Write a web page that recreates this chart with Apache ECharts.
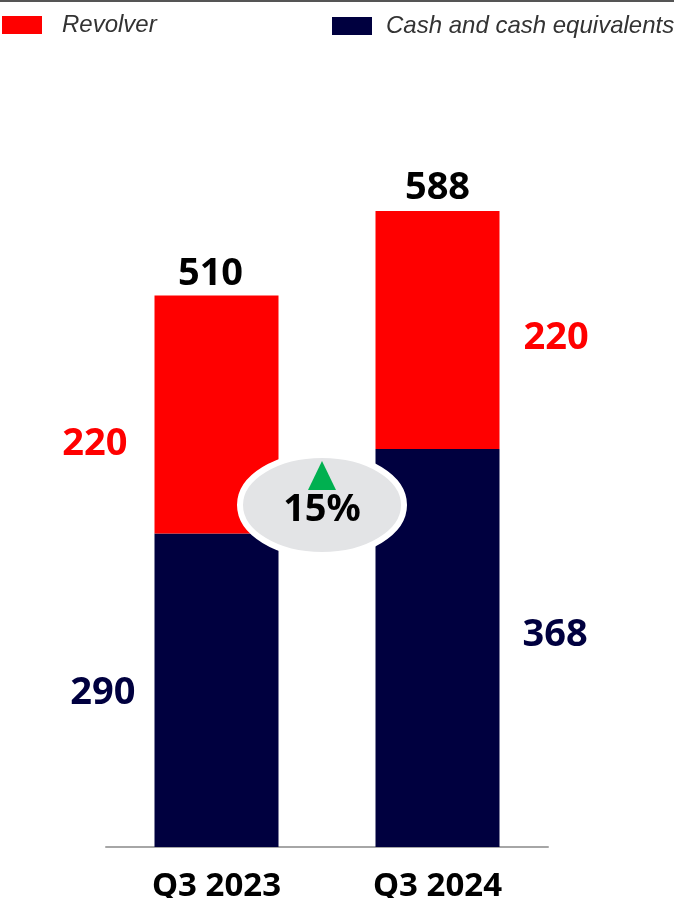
<!DOCTYPE html>
<html>
<head>
<meta charset="utf-8">
<script src="https://cdn.jsdelivr.net/npm/echarts@6/dist/echarts.min.js"></script>
<style>
  html, body { margin: 0; padding: 0; background: #fff; }
  #chart { width: 674px; height: 898px; }
</style>
</head>
<body>
<div id="chart"></div>
<script>
// Liquidity by quarter (USD millions)
const categories = ['Q3 2023', 'Q3 2024'];
const cashValues = [290, 368];
const revolverValues = [220, 220];
const changeLabel = '15%';

const totals = categories.map((_, i) => cashValues[i] + revolverValues[i]);

const RED = '#ff0000';
const NAVY = '#00003f';
const NUM_FONT = '"Noto Sans", sans-serif';
const LEGEND_FONT = '"Liberation Sans", Arial, sans-serif';

// Segment labels sit outside the bars: left of the first column, right of the second.
const cashLabelOffsets = [[3, 3], [1, -13]];
const revolverLabelOffsets = [[-5, 30], [2, 8]];
const totalLabelOffsets = [[-6, 0], [0, -2]];
const side = (i) => (i === 0 ? 'left' : 'right');

const segmentData = (values, offsets) => values.map((v, i) => ({
  value: v,
  label: { position: side(i), distance: 22, offset: offsets[i] }
}));

const chart = echarts.init(document.getElementById('chart'));

chart.setOption({
  animation: false,
  grid: { left: 106, right: 126, top: 90, bottom: 51, containLabel: false, outerBoundsMode: 'none' },
  legend: [
    {
      data: ['Revolver'], left: 2, top: 13, padding: 0, itemWidth: 40, itemHeight: 18, itemGap: 0,
      icon: 'rect',
      textStyle: { fontFamily: LEGEND_FONT, fontStyle: 'italic', fontSize: 24, color: '#333', padding: [0, 0, 0, 15] }
    },
    {
      data: ['Cash and cash equivalents'], left: 332, top: 14, padding: 0, itemWidth: 40, itemHeight: 18, itemGap: 0,
      icon: 'rect',
      textStyle: { fontFamily: LEGEND_FONT, fontStyle: 'italic', fontSize: 24, color: '#333', padding: [0, 0, 0, 9] }
    }
  ],
  xAxis: {
    type: 'category',
    data: categories,
    axisLine: { lineStyle: { color: '#a6a6a6', width: 2 } },
    axisTick: { show: false },
    axisLabel: { margin: 23, fontFamily: NUM_FONT, fontWeight: 'bold', fontSize: 33, color: '#000' }
  },
  yAxis: {
    type: 'value', min: 0, max: 700,
    show: false, splitLine: { show: false }
  },
  series: [
    {
      name: 'Cash and cash equivalents',
      type: 'bar', stack: 'total', barWidth: 124,
      data: segmentData(cashValues, cashLabelOffsets),
      itemStyle: { color: NAVY },
      label: {
        show: true,
        fontFamily: NUM_FONT, fontWeight: 'bold', fontSize: 38, color: NAVY
      }
    },
    {
      name: 'Revolver',
      type: 'bar', stack: 'total', barWidth: 124,
      data: segmentData(revolverValues, revolverLabelOffsets),
      itemStyle: { color: RED },
      label: {
        show: true,
        fontFamily: NUM_FONT, fontWeight: 'bold', fontSize: 38, color: RED
      }
    },
    {
      name: 'Total',
      type: 'scatter',
      data: totals.map((v, i) => ({ value: v, label: { offset: totalLabelOffsets[i] } })),
      symbolSize: 0,
      silent: true,
      itemStyle: { opacity: 1 },
      label: {
        show: true, position: 'top', distance: 2,
        fontFamily: NUM_FONT, fontWeight: 'bold', fontSize: 38, color: '#000', opacity: 1
      }
    }
  ],
  graphic: [
    { type: 'line', shape: { x1: 0, y1: 1, x2: 674, y2: 1 }, style: { stroke: '#555', lineWidth: 2 } },
    {
      type: 'ellipse', shape: { cx: 322, cy: 505, rx: 82, ry: 50 },
      style: { fill: '#e3e4e6', stroke: '#fff', lineWidth: 6 }, z: 100
    },
    {
      type: 'polygon', shape: { points: [[322, 461], [308, 490], [336, 490]] },
      style: { fill: '#00b050' }, z: 101
    },
    {
      type: 'text', x: 322, y: 510,
      style: { text: changeLabel, fill: '#000', font: 'bold 38px "Noto Sans", sans-serif', textAlign: 'center', textVerticalAlign: 'middle' },
      z: 101
    }
  ]
});
</script>
</body>
</html>
